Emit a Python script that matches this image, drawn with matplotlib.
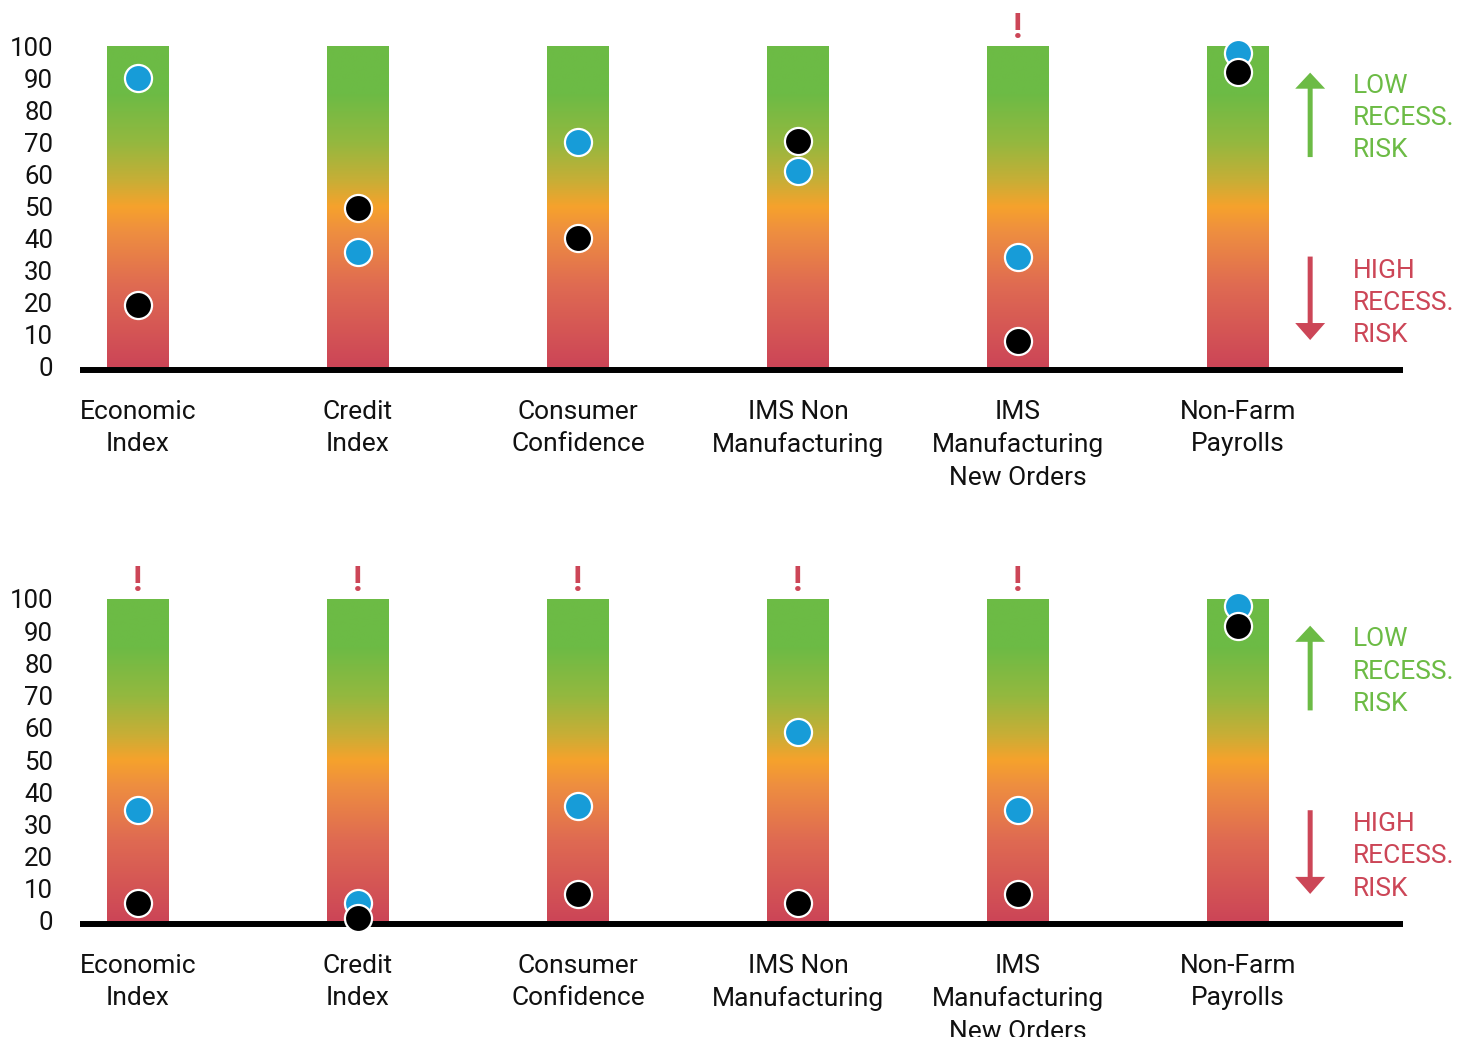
import numpy as np
import matplotlib
matplotlib.use("Agg")
import matplotlib.pyplot as plt
from matplotlib.colors import LinearSegmentedColormap
from matplotlib.patches import FancyArrow

plt.rcParams['font.family'] = ['Roboto', 'DejaVu Sans']

categories = ['Economic\nIndex', 'Credit\nIndex', 'Consumer\nConfidence',
              'IMS Non\nManufacturing', 'IMS\nManufacturing\nNew Orders',
              'Non-Farm\nPayrolls']
top_blue = [90.0, 35.8, 70.1, 61.1, 34.3, 97.9]
top_black = [19.3, 49.5, 40.2, 70.4, 8.1, 92.0]
top_flag = [False, False, False, False, True, False]
bottom_blue = [34.5, 5.5, 35.7, 58.7, 34.5, 97.8]
bottom_black = [5.5, 0.8, 8.4, 5.6, 8.4, 91.6]
bottom_flag = [True, True, True, True, True, False]
yticks = [0, 10, 20, 30, 40, 50, 60, 70, 80, 90, 100]

GREEN = '#6CBB45'
RED = '#CC4657'
BLUE = '#179CD8'

cmap = LinearSegmentedColormap.from_list('risk', [
    (0.0, '#CC4557'),
    (0.25, '#DF6A52'),
    (0.42, '#EE8E40'),
    (0.50, '#F6A22C'),
    (0.58, '#C8AE36'),
    (0.70, '#94B83F'),
    (0.85, '#6DBB45'),
    (1.0, '#6CBB45'),
])

fig = plt.figure(figsize=(14.69, 10.37), dpi=100)
W, H = 1469, 1037

def panel(rect, blue, black, flags):
    ax = fig.add_axes(rect)
    x = np.arange(len(categories))
    grad = np.linspace(0, 1, 256).reshape(-1, 1)
    bw = 0.2773
    for xi in x:
        ax.imshow(grad, extent=(xi - bw / 2, xi + bw / 2, 0, 100), origin='lower',
                  cmap=cmap, aspect='auto', zorder=1, interpolation='bilinear')
    ax.plot([-0.2636, 5.75], [-0.93, -0.93], color='black', lw=4.3,
            solid_capstyle='butt', clip_on=False, zorder=2)
    ax.plot(x, blue, 'o', ms=19.5, mfc=BLUE, mec='white', mew=1.6,
            clip_on=False, zorder=4)
    ax.plot(x, black, 'o', ms=19.5, mfc='black', mec='white', mew=1.6,
            clip_on=False, zorder=5)
    for xi, f in zip(x, flags):
        if f:
            ax.text(xi, 102.5, '!', color=RED, fontsize=25, fontweight='bold',
                    ha='center', va='baseline')
    # risk arrows
    ax.add_patch(FancyArrow(5.328, 65.4, 0, 91.7 - 65.4, width=0.0227,
                            head_width=0.136, head_length=5.0,
                            length_includes_head=True, color=GREEN, lw=0,
                            clip_on=False))
    ax.add_patch(FancyArrow(5.328, 34.4, 0, 8.4 - 34.4, width=0.0227,
                            head_width=0.136, head_length=5.3,
                            length_includes_head=True, color=RED, lw=0,
                            clip_on=False))
    for i, t in enumerate(['LOW', 'RECESS.', 'RISK']):
        ax.text(5.52, 88.2 - i * 9.97, t, color=GREEN, fontsize=19,
                ha='left', va='center_baseline')
    for i, t in enumerate(['HIGH', 'RECESS.', 'RISK']):
        ax.text(5.52, 30.8 - i * 9.97, t, color=RED, fontsize=19,
                ha='left', va='center_baseline')
    ax.set_xlim(-0.2636, 5.75)
    ax.set_ylim(0, 100)
    ax.set_yticks(yticks)
    ax.set_yticklabels([str(v) for v in yticks], fontsize=18.5, color='#111111')
    for lab in ax.get_yticklabels():
        lab.set_verticalalignment('center_baseline')
    ax.set_xticks(x)
    ax.set_xticklabels(categories, fontsize=19, color='#111111', linespacing=1.44)
    ax.tick_params(axis='y', length=0, pad=19.3)
    ax.tick_params(axis='x', length=0, pad=23.6)
    for s in ax.spines.values():
        s.set_visible(False)
    return ax

left = 80 / W
width = (1403 - 80) / W
panel([left, (H - 367) / H, width, 321 / H], top_blue, top_black, top_flag)
panel([left, (H - 921) / H, width, 322 / H], bottom_blue, bottom_black, bottom_flag)

fig.savefig('out.png', dpi=100, facecolor='white')
